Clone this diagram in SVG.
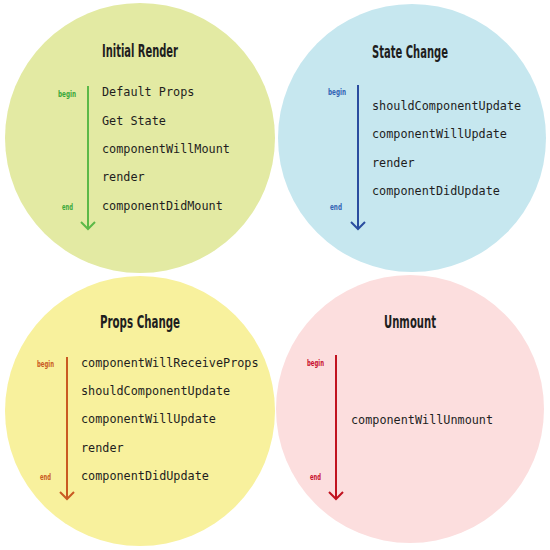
<svg xmlns="http://www.w3.org/2000/svg" width="550" height="550" viewBox="0 0 550 550">
<style>
.title{font-family:"DejaVu Sans Condensed","DejaVu Sans",sans-serif;font-weight:bold;font-size:17px;fill:#1e1e1e;}
.lbl{font-family:"DejaVu Sans Condensed","DejaVu Sans",sans-serif;font-weight:bold;font-size:9.5px;}
.m{font-family:"DejaVu Sans Mono","Liberation Mono",monospace;font-size:11.8px;fill:#1e1e1e;}
.arr{fill:none;stroke-width:2;}
</style>
<rect width="550" height="550" fill="#ffffff"/>
<g id="initial-render">
<circle cx="140" cy="138" r="135" fill="#e3eaa3"/>
<text class="title" x="102" y="57" textLength="76" lengthAdjust="spacingAndGlyphs">Initial Render</text>
<text class="lbl" x="58" y="97" fill="#3aa83a" textLength="18" lengthAdjust="spacingAndGlyphs">begin</text>
<text class="lbl" x="62" y="210" fill="#3aa83a" textLength="11" lengthAdjust="spacingAndGlyphs">end</text>
<text class="m" x="102" y="96">Default Props</text>
<text class="m" x="102" y="125">Get State</text>
<text class="m" x="102" y="153">componentWillMount</text>
<text class="m" x="102" y="181">render</text>
<text class="m" x="102" y="210">componentDidMount</text>
</g>
<g id="state-change">
<circle cx="412" cy="138" r="134" fill="#c6e7ef"/>
<text class="title" x="372" y="58" textLength="76" lengthAdjust="spacingAndGlyphs">State Change</text>
<text class="lbl" x="328" y="95" fill="#3264b4" textLength="18" lengthAdjust="spacingAndGlyphs">begin</text>
<text class="lbl" x="330" y="210" fill="#3264b4" textLength="12" lengthAdjust="spacingAndGlyphs">end</text>
<text class="m" x="372" y="110">shouldComponentUpdate</text>
<text class="m" x="372" y="138">componentWillUpdate</text>
<text class="m" x="372" y="167">render</text>
<text class="m" x="372" y="195">componentDidUpdate</text>
</g>
<g id="props-change">
<circle cx="140" cy="411" r="135" fill="#f8f19d"/>
<text class="title" x="100" y="328" textLength="80" lengthAdjust="spacingAndGlyphs">Props Change</text>
<text class="lbl" x="37" y="367" fill="#c95a22" textLength="17" lengthAdjust="spacingAndGlyphs">begin</text>
<text class="lbl" x="40" y="480" fill="#c95a22" textLength="11" lengthAdjust="spacingAndGlyphs">end</text>
<text class="m" x="81" y="367">componentWillReceiveProps</text>
<text class="m" x="81" y="395">shouldComponentUpdate</text>
<text class="m" x="81" y="423">componentWillUpdate</text>
<text class="m" x="81" y="452">render</text>
<text class="m" x="81" y="480">componentDidUpdate</text>
</g>
<g id="unmount">
<circle cx="410" cy="409" r="134" fill="#fcdede"/>
<text class="title" x="384" y="328" textLength="52" lengthAdjust="spacingAndGlyphs">Unmount</text>
<text class="lbl" x="307" y="366" fill="#c8102e" textLength="17" lengthAdjust="spacingAndGlyphs">begin</text>
<text class="lbl" x="310" y="480" fill="#c8102e" textLength="11" lengthAdjust="spacingAndGlyphs">end</text>
<text class="m" x="351" y="424">componentWillUnmount</text>
</g>
<g id="connectors">
<path class="arr" stroke="#5cb947" d="M88 86V229M81 222L88 229L95 222"/>
<path class="arr" stroke="#2a4d9f" d="M358 85V229M351 222L358 229L365 222"/>
<path class="arr" stroke="#c95a22" d="M67 357V499M60 492L67 499L74 492"/>
<path class="arr" stroke="#c1121f" d="M336 355V499M329 492L336 499L343 492"/>
</g>
</svg>
